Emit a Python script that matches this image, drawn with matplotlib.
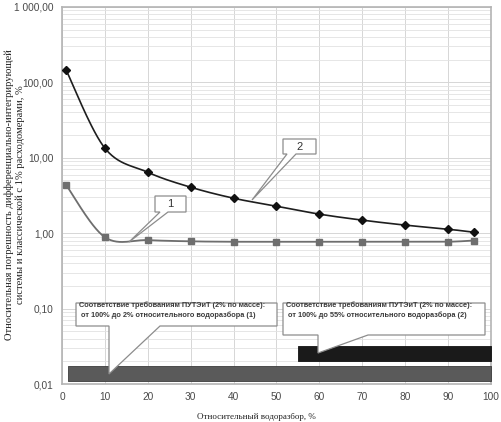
import numpy as np
import matplotlib
matplotlib.use("Agg")
import matplotlib.pyplot as plt
from matplotlib.patches import Polygon
from matplotlib.ticker import FixedLocator, LogLocator, FuncFormatter, NullFormatter

# relative flow, % and relative errors, %
flow       = [1, 10, 20, 30, 40, 50, 60, 70, 80, 90, 96]
err_dii    = [4.32, 0.885, 0.81, 0.78, 0.77, 0.77, 0.77, 0.77, 0.77, 0.77, 0.80]   # curve 1
err_class  = [144, 13.4, 6.43, 4.07, 2.91, 2.28, 1.79, 1.49, 1.28, 1.13, 1.03]     # curve 2

# ranges of compliance with the 2% requirement (from .. to, % of flow)
range_from = [1.5, 55]
range_to   = [100, 100]

yticks = [0.01, 0.1, 1, 10, 100, 1000]

txt1 = "Соответствие требованиям ПУТЭиТ (2% по массе):\n от 100% до 2% относительного водоразбора (1)"
txt2 = "Соответствие требованиям ПУТЭиТ (2% по массе):\n от 100% до 55% относительного водоразбора (2)"
ylab = "Относительная погрешность дифференциально-интегрирующей\nсистемы и классической с 1% расходомерами, %"
xlab = "Относительный водоразбор, %"

W, H = 501, 422
L, R, B, T = 62, 491, 384, 7     # plot box in pixels
SX = (R - L) / 100.0             # px per % of flow
SY = (B - T) / 5.0               # px per decade


def smooth(xs, ys, n=30):
    # excel-like smoothed line, worked out in screen units
    P = np.column_stack([np.asarray(xs, float) * SX, np.log10(ys) * SY])
    out = [P[0]]
    t = np.linspace(0, 1, n)[1:, None]
    for i in range(len(P) - 1):
        p0 = P[i - 1] if i > 0 else P[i]
        p1, p2 = P[i], P[i + 1]
        p3 = P[i + 2] if i + 2 < len(P) else P[i + 1]
        c1 = p1 + (p2 - p0) / 6
        c2 = p2 - (p3 - p1) / 6
        seg = (1 - t)**3 * p1 + 3 * (1 - t)**2 * t * c1 + 3 * (1 - t) * t**2 * c2 + t**3 * p2
        out.extend(seg)
    out = np.array(out)
    return out[:, 0] / SX, 10 ** (out[:, 1] / SY)


def fr(px, py):
    # pixel -> axes fraction
    return ((px - L) / (R - L), (B - py) / (B - T))


def callout(ax, box, wedge, tip, **kw):
    x0, y0, x1, y1 = box
    pts = [(x0, y0), (x1, y0), (x1, y1), (wedge[1], y1), tip, (wedge[0], y1), (x0, y1)]
    ax.add_patch(Polygon([fr(*p) for p in pts], closed=True, transform=ax.transAxes,
                         facecolor="white", edgecolor="#8c8c8c", lw=0.9, zorder=6, **kw))


fig = plt.figure(figsize=(W / 100, H / 100), dpi=100)
ax = fig.add_axes([L / W, 1 - B / H, (R - L) / W, (B - T) / H])
ax.set_yscale("log")
ax.set_xlim(0, 100)
ax.set_ylim(0.01, 1000)

ax.yaxis.set_major_locator(FixedLocator(yticks))
ax.yaxis.set_minor_locator(LogLocator(base=10, subs=np.arange(2, 10)))
ax.yaxis.set_minor_formatter(NullFormatter())
ax.yaxis.set_major_formatter(FuncFormatter(
    lambda v, p: ("{:,.2f}".format(v)).replace(",", " ").replace(".", ",")))
ax.set_xticks(np.arange(0, 101, 10))

ax.grid(True, which="major", color="#d6d6d6", lw=0.7)
ax.grid(True, which="minor", axis="y", color="#e2e2e2", lw=0.6)
ax.set_axisbelow(True)
for s in ax.spines.values():
    s.set_color("#b4b4b4")
    s.set_linewidth(1.2)
ax.tick_params(which="both", length=0)
ax.tick_params(labelsize=7.3, labelcolor="#4a4a4a", pad=6)
for lb in ax.get_xticklabels() + ax.get_yticklabels():
    lb.set_family("Liberation Sans")

# compliance bars
ax.broken_barh([(range_from[0], range_to[0] - range_from[0])], (0.0110, 0.0173 - 0.0110),
               facecolor="#5a5a5a", edgecolor="#3c3c3c", lw=0.6, zorder=3)
ax.broken_barh([(range_from[1], range_to[1] - range_from[1])], (0.0202, 0.0319 - 0.0202),
               facecolor="#1a1a1a", edgecolor="#111111", lw=0.6, zorder=3)

# curves
sx, sy = smooth(flow, err_dii)
ax.plot(sx, sy, color="#6e6e6e", lw=1.3, zorder=4)
ax.plot(flow, err_dii, ls="none", marker="s", ms=4.5, color="#6e6e6e", zorder=5)
sx, sy = smooth(flow, err_class)
ax.plot(sx, sy, color="#1e1e1e", lw=1.2, zorder=4)
ax.plot(flow, err_class, ls="none", marker="D", ms=3.8, color="#111111", zorder=5)

# callouts
callout(ax, (76, 303, 277, 326), (109, 160), (109, 374))
ax.text(*fr(79, 310), txt1, transform=ax.transAxes, fontsize=5.3, fontweight="bold",
        color="#3a3a3a", va="center", ha="left", linespacing=1.5, zorder=7,
        family="Liberation Sans")
callout(ax, (283, 303, 485, 335), (318, 368), (318, 353))
ax.text(*fr(286, 310), txt2, transform=ax.transAxes, fontsize=5.3, fontweight="bold",
        color="#3a3a3a", va="center", ha="left", linespacing=1.5, zorder=7,
        family="Liberation Sans")
callout(ax, (155, 196, 186, 212), (160, 168), (129, 242))
ax.text(*fr(170.5, 204), "1", transform=ax.transAxes, fontsize=8, color="#333333",
        ha="center", va="center", zorder=7, family="Liberation Sans")
callout(ax, (283, 139, 316, 154), (287, 296), (252, 200))
ax.text(*fr(299.5, 146.5), "2", transform=ax.transAxes, fontsize=8, color="#333333",
        ha="center", va="center", zorder=7, family="Liberation Sans")

fig.text(256 / W, 1 - 417 / H, xlab, ha="center", va="center", fontsize=6.5,
         family="Liberation Serif", color="#222222")
fig.text(15 / W, 1 - 195 / H, ylab, ha="center", va="center", rotation=90, fontsize=7.6,
         family="Liberation Serif", color="#222222", linespacing=1.15)

fig.savefig("out.png", dpi=100)
